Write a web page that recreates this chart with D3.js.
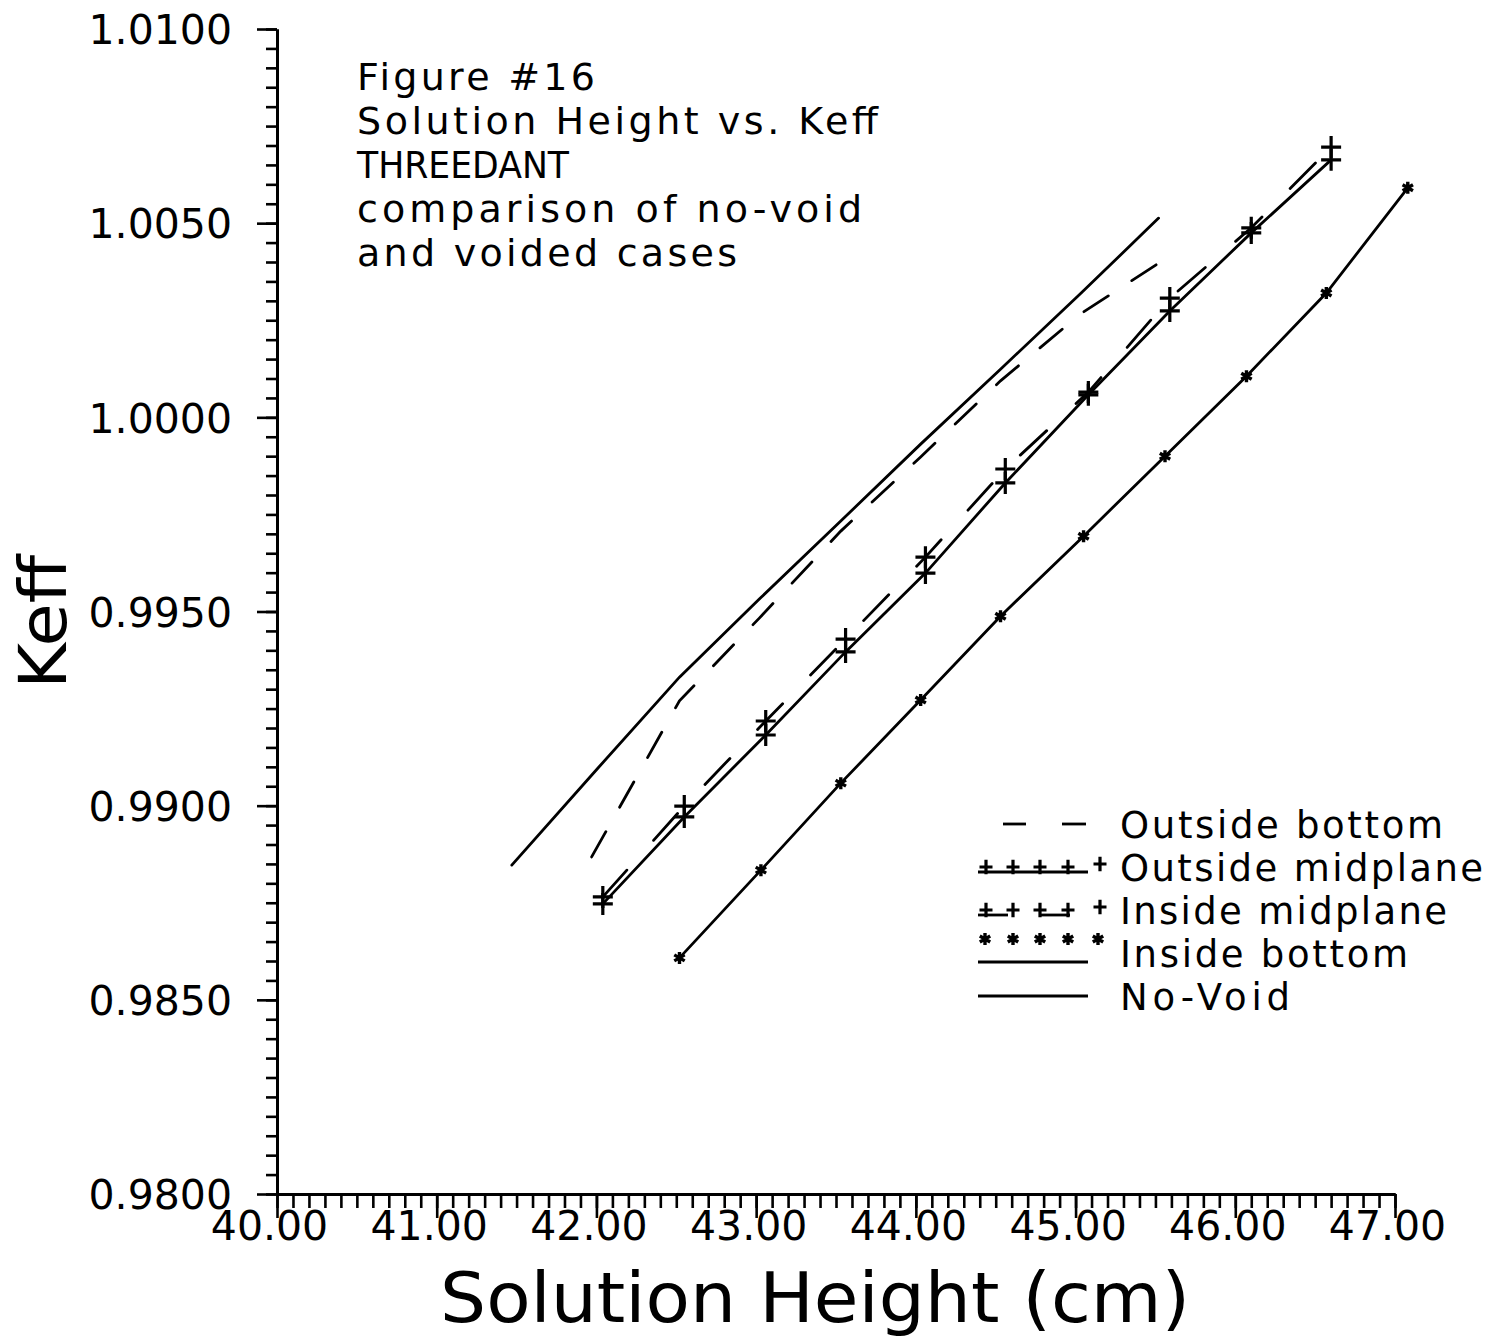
<!DOCTYPE html>
<html>
<head>
<meta charset="utf-8">
<script src="https://cdn.jsdelivr.net/npm/d3@7"></script>
<style>
  body { margin: 0; background: #fff; }
  svg { display: block; }
  text { font-family: "DejaVu Sans", sans-serif; fill: #000; }
</style>
</head>
<body>
<script>
// Solution height (cm) and Keff for each configuration
const noVoidHeight = [41.47, 42.01, 42.52, 43.02, 43.53, 44.03, 44.53, 45.03, 45.52];
const noVoidKeff   = [0.98847, 0.99097, 0.99331, 0.99532, 0.99733, 0.99931, 1.00124, 1.00318, 1.00513];

const outsideBottomHeight = [41.97, 42.52, 43.02, 43.53, 44.03, 44.53, 45.03, 45.52];
const outsideBottomKeff   = [0.98868, 0.99270, 0.99483, 0.99707, 0.99898, 1.00094, 1.00266, 1.00397];

const midplaneHeight     = [42.04, 42.55, 43.06, 43.56, 44.06, 44.56, 45.08, 45.59, 46.10, 46.60];
const outsideMidKeff     = [0.98747, 0.98971, 0.99182, 0.99396, 0.99599, 0.99831, 1.00058, 1.00274, 1.00475, 1.00663];
const insideMidKeff      = [0.98765, 0.98999, 0.99218, 0.99429, 0.99640, 0.99867, 1.00065, 1.00307, 1.00488, 1.00696];

const insideBottomHeight = [42.52, 43.03, 43.53, 44.03, 44.53, 45.05, 45.56, 46.07, 46.57, 47.08];
const insideBottomKeff   = [0.98608, 0.98834, 0.99058, 0.99272, 0.99488, 0.99694, 0.99900, 1.00106, 1.00320, 1.00591];

const xMajorTicks = [40, 41, 42, 43, 44, 45, 46, 47];
const yMajorTicks = [0.980, 0.985, 0.990, 0.995, 1.000, 1.005, 1.010];

const titleLines = ["Figure #16", "Solution Height vs. Keff", "THREEDANT",
                    "comparison of no-void", "and voided cases"];
const legendLabels = ["Outside bottom", "Outside midplane", "Inside midplane",
                      "Inside bottom", "No-Void"];

const W = 1492, H = 1343;
const svg = d3.select("body").append("svg").attr("width", W).attr("height", H);

const x = d3.scaleLinear().domain([40, 47]).range([277, 1395]);
const y = d3.scaleLinear().domain([0.98, 1.01]).range([1194, 29]);

const ink = "#000";

// ---- axes ----
const xMinor = d3.range(0, 71).map(i => 40 + i * 0.1);
const yMinor = d3.range(0, 61).map(i => 0.98 + i * 0.0005);

const gx = svg.append("g").attr("transform", `translate(0,${y(0.98)})`);
gx.call(d3.axisBottom(x).tickValues(xMinor).tickSize(14).tickSizeOuter(0).tickFormat(""));
gx.append("g").call(d3.axisBottom(x).tickValues(xMajorTicks).tickSize(24).tickSizeOuter(0)
    .tickPadding(0).tickFormat(d3.format(".2f")));

const gy = svg.append("g").attr("transform", `translate(${x(40)},0)`);
gy.call(d3.axisLeft(y).tickValues(yMinor).tickSize(11).tickSizeOuter(0).tickFormat(""));
gy.append("g").call(d3.axisLeft(y).tickValues(yMajorTicks).tickSize(20).tickSizeOuter(0)
    .tickPadding(25).tickFormat(d3.format(".4f")));

svg.selectAll(".domain").attr("stroke", ink).attr("stroke-width", 3);
svg.selectAll(".tick line").attr("stroke", ink).attr("stroke-width", 2.6);
// x labels: baseline 46px below the axis line
gx.selectAll(".tick text").attr("font-size", 41).attr("dx", -8)
  .attr("y", 46).attr("dy", 0)
  .attr("font-family", "DejaVu Sans").attr("fill", ink);
gy.selectAll(".tick text").attr("font-size", 41).attr("dy", "0.36em")
  .attr("font-family", "DejaVu Sans").attr("fill", ink);

// ---- axis titles ----
svg.append("text").attr("x", 815).attr("y", 1322).attr("text-anchor", "middle")
  .attr("font-size", 70).attr("textLength", 750).attr("lengthAdjust", "spacingAndGlyphs")
  .text("Solution Height (cm)");
svg.append("text").attr("transform", "translate(66,622) rotate(-90)")
  .attr("text-anchor", "middle").attr("font-size", 66)
  .attr("textLength", 134).attr("lengthAdjust", "spacingAndGlyphs")
  .text("Keff");

// ---- title block ----
const titleBase = [90, 134, 178, 222, 266];
const titleWidth = [238, 521, 212, 505, 380];
titleLines.forEach((t, i) => {
  svg.append("text").attr("x", 357).attr("y", titleBase[i]).attr("font-size", 38)
    .attr("textLength", titleWidth[i])
    .attr("lengthAdjust", t === "THREEDANT" ? "spacingAndGlyphs" : "spacing")
    .text(t);
});

// ---- series ----
const line = d3.line().x(d => x(d[0])).y(d => y(d[1]));
const zip = (a, b) => a.map((v, i) => [v, b[i]]);

const noVoid = zip(noVoidHeight, noVoidKeff);
const outsideBottom = zip(outsideBottomHeight, outsideBottomKeff);
const outsideMid = zip(midplaneHeight, outsideMidKeff);
const insideMid = zip(midplaneHeight, insideMidKeff);
const insideBottom = zip(insideBottomHeight, insideBottomKeff);

const lineStyle = (p, dash) => p.attr("fill", "none").attr("stroke", ink)
  .attr("stroke-width", 2.8).attr("stroke-linecap", "round")
  .attr("stroke-dasharray", dash || null);

lineStyle(svg.append("path").attr("d", line(noVoid)));
lineStyle(svg.append("path").attr("d", line(outsideBottom)), "29 28");
lineStyle(svg.append("path").attr("d", line(outsideMid)));
lineStyle(svg.append("path").attr("d", line(insideMid)), "36 40");
lineStyle(svg.append("path").attr("d", line(insideBottom)));

// marker shapes
function plus(g, cx, cy, s = 1) {
  g.append("path").attr("d", `M${cx - 10 * s},${cy}H${cx + 10 * s}M${cx},${cy - 11 * s}V${cy + 11 * s}`)
    .attr("stroke", ink).attr("stroke-width", 3.2).attr("fill", "none");
}
function star(g, cx, cy) {
  const r = 6;
  let d = "";
  [90, 30, -30].forEach(a => {
    const dx = r * Math.cos(a * Math.PI / 180), dy = r * Math.sin(a * Math.PI / 180);
    d += `M${cx - dx},${cy - dy}L${cx + dx},${cy + dy}`;
  });
  g.append("path").attr("d", d).attr("stroke", ink).attr("stroke-width", 3.4).attr("fill", "none");
}

const markers = svg.append("g");
outsideMid.forEach(d => plus(markers, x(d[0]), y(d[1])));
insideMid.forEach(d => plus(markers, x(d[0]), y(d[1])));
insideBottom.forEach(d => star(markers, x(d[0]), y(d[1])));

// ---- legend ----
const legRowY = [824, 867, 910, 953, 996];
const legWidth = [323, 363, 327, 288, 170];
const lg = svg.append("g");
legendLabels.forEach((t, i) => {
  lg.append("text").attr("x", 1120).attr("y", legRowY[i] + 14).attr("font-size", 37)
    .attr("textLength", legWidth[i]).attr("lengthAdjust", "spacing").text(t);
});
const seg = (x1, x2, yy) => lg.append("path").attr("d", `M${x1},${yy}H${x2}`)
  .attr("stroke", ink).attr("stroke-width", 2.8).attr("fill", "none");
// Outside bottom: dashed
seg(1003, 1026, legRowY[0]); seg(1062, 1086, legRowY[0]);
// Outside midplane: solid with plus marks
seg(978, 1088, legRowY[1] + 5);
[986, 1013, 1040, 1068].forEach(cx => plus(lg, cx, legRowY[1], 0.65));
plus(lg, 1100, legRowY[1] - 3, 0.65);
// Inside midplane: dashed with plus marks
seg(978, 1008, legRowY[2] + 5); seg(1040, 1070, legRowY[2] + 5);
[986, 1013, 1040, 1068].forEach(cx => plus(lg, cx, legRowY[2], 0.65));
plus(lg, 1100, legRowY[2] - 3, 0.65);
// Inside bottom: solid with asterisks
seg(978, 1088, legRowY[3] + 9);
[985, 1013, 1040, 1068, 1098].forEach(cx => star(lg, cx, legRowY[3] - 14));
// No-Void: solid
seg(978, 1088, legRowY[4]);
</script>
</body>
</html>
